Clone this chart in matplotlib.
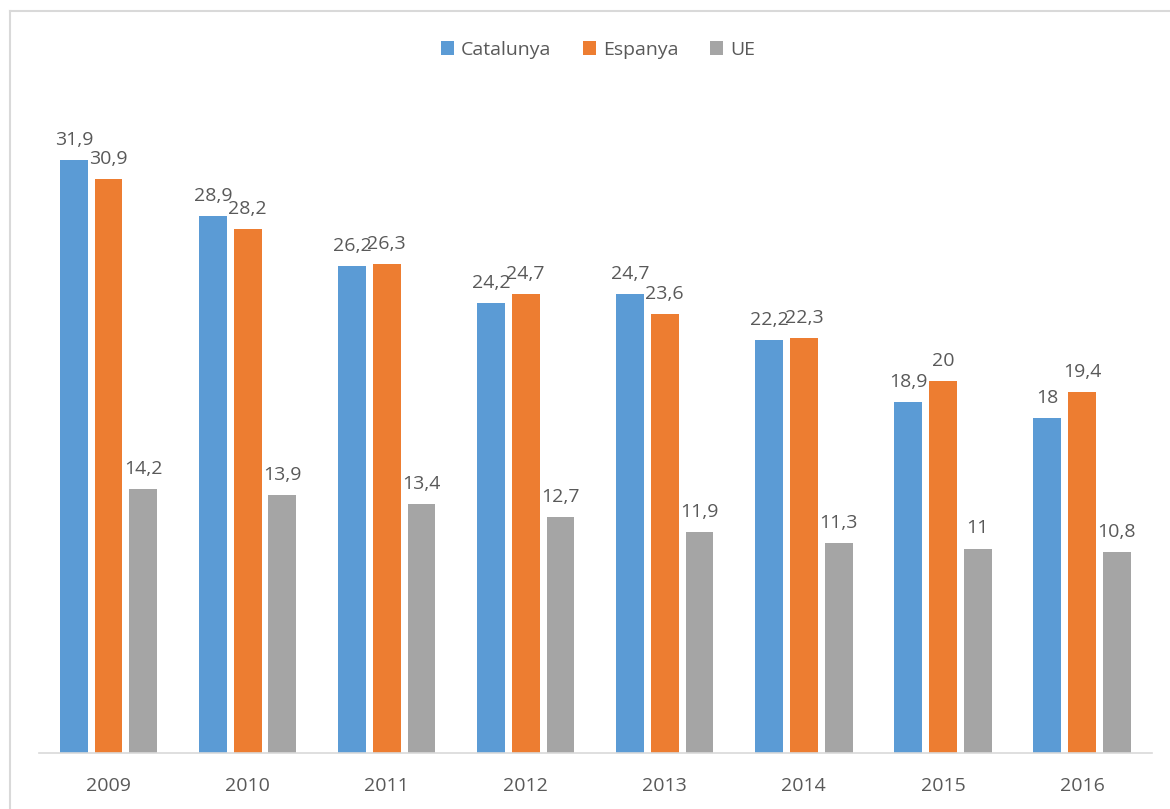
import matplotlib
matplotlib.use("Agg")
import matplotlib.pyplot as plt
from matplotlib.lines import Line2D
import numpy as np

years = ["2009", "2010", "2011", "2012", "2013", "2014", "2015", "2016"]
catalunya = [31.9, 28.9, 26.2, 24.2, 24.7, 22.2, 18.9, 18.0]
espanya = [30.9, 28.2, 26.3, 24.7, 23.6, 22.3, 20.0, 19.4]
ue = [14.2, 13.9, 13.4, 12.7, 11.9, 11.3, 11.0, 10.8]
series_names = ["Catalunya", "Espanya", "UE"]
colors = ["#5B9BD5", "#ED7D31", "#A5A5A5"]

plt.rcParams['font.family'] = ['Open Sans', 'DejaVu Sans']
txt = "#595959"

fig = plt.figure(figsize=(11.7, 8.09), dpi=100)
ax = fig.add_axes([39/1170, 56/809, 1112.5/1170, 650.6/809])

x = np.arange(len(years))
w = 0.2
step = 0.25
for i, (vals, name, c) in enumerate(zip([catalunya, espanya, ue], series_names, colors)):
    pos = x + (i - 1) * step
    ax.bar(pos, vals, width=w, color=c, label=name)
    for p, v in zip(pos, vals):
        s = (f"{v:.1f}" if v != int(v) else f"{int(v)}").replace(".", ",")
        ax.annotate(s, (p, v), xytext=(0, 8), textcoords="offset points",
                    ha="center", va="bottom", fontsize=14, color=txt)

ax.set_xlim(-0.5, len(years) - 0.5)
ax.set_ylim(0, 35)
ax.set_xticks(x)
ax.set_xticklabels(years, fontsize=14, color=txt)
ax.tick_params(axis='x', length=0, pad=17)
ax.set_yticks([])
for sp in ["top", "right", "left"]:
    ax.spines[sp].set_visible(False)
ax.spines["bottom"].set_color("#D9D9D9")
ax.spines["bottom"].set_linewidth(1.2)

leg = fig.legend(loc="center", bbox_to_anchor=(598/1170, 1 - 50/809), ncol=3,
                 frameon=False, fontsize=14, handlelength=0.7, handleheight=0.7,
                 handletextpad=0.35, columnspacing=1.6)
for t in leg.get_texts():
    t.set_color(txt)

# outer chart border (top and left visible)
fig.add_artist(Line2D([10/1170, 1.0], [1 - 11/809, 1 - 11/809], transform=fig.transFigure,
                      color="#D9D9D9", lw=1.5))
fig.add_artist(Line2D([10/1170, 10/1170], [0, 1 - 11/809], transform=fig.transFigure,
                      color="#D9D9D9", lw=1.5))

fig.savefig("out.png", dpi=100, facecolor="white")
